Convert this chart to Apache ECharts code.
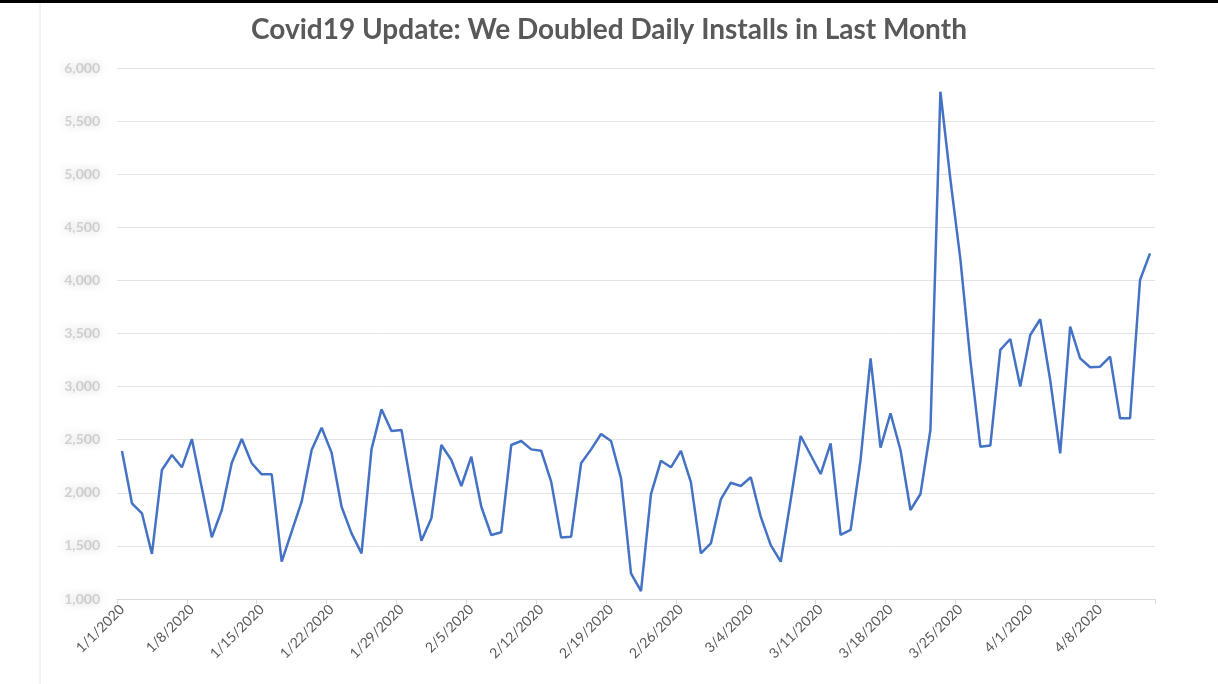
<!DOCTYPE html>
<html>
<head>
<meta charset="utf-8">
<script src="https://cdn.jsdelivr.net/npm/echarts@6/dist/echarts.min.js"></script>
<style>
html,body{margin:0;padding:0;background:#fff;}
#chart{width:1218px;height:684px;}
</style>
</head>
<body>
<div id="chart"></div>
<script>
const titleText = "Covid19 Update: We Doubled Daily Installs in Last Month";

const dates = [
"1/1/2020","1/2/2020","1/3/2020","1/4/2020","1/5/2020","1/6/2020","1/7/2020","1/8/2020","1/9/2020","1/10/2020",
"1/11/2020","1/12/2020","1/13/2020","1/14/2020","1/15/2020","1/16/2020","1/17/2020","1/18/2020","1/19/2020","1/20/2020",
"1/21/2020","1/22/2020","1/23/2020","1/24/2020","1/25/2020","1/26/2020","1/27/2020","1/28/2020","1/29/2020","1/30/2020",
"1/31/2020","2/1/2020","2/2/2020","2/3/2020","2/4/2020","2/5/2020","2/6/2020","2/7/2020","2/8/2020","2/9/2020",
"2/10/2020","2/11/2020","2/12/2020","2/13/2020","2/14/2020","2/15/2020","2/16/2020","2/17/2020","2/18/2020","2/19/2020",
"2/20/2020","2/21/2020","2/22/2020","2/23/2020","2/24/2020","2/25/2020","2/26/2020","2/27/2020","2/28/2020","2/29/2020",
"3/1/2020","3/2/2020","3/3/2020","3/4/2020","3/5/2020","3/6/2020","3/7/2020","3/8/2020","3/9/2020","3/10/2020",
"3/11/2020","3/12/2020","3/13/2020","3/14/2020","3/15/2020","3/16/2020","3/17/2020","3/18/2020","3/19/2020","3/20/2020",
"3/21/2020","3/22/2020","3/23/2020","3/24/2020","3/25/2020","3/26/2020","3/27/2020","3/28/2020","3/29/2020","3/30/2020",
"3/31/2020","4/1/2020","4/2/2020","4/3/2020","4/4/2020","4/5/2020","4/6/2020","4/7/2020","4/8/2020","4/9/2020",
"4/10/2020","4/11/2020","4/12/2020","4/13/2020"
];

const dailyInstalls = [
2394,1901,1807,1424,2215,2356,2240,2506,2045,1581,
1838,2283,2506,2278,2174,2174,1351,1634,1916,2403,
2613,2378,1869,1618,1430,2409,2786,2582,2591,2050,
1549,1760,2450,2309,2064,2340,1869,1603,1628,2450,
2488,2409,2396,2105,1578,1587,2278,2409,2554,2488,
2136,1242,1075,1987,2302,2240,2394,2100,1430,1524,
1939,2095,2064,2146,1775,1508,1351,1932,2535,2356,
2177,2466,1603,1650,2309,3266,2425,2749,2403,1838,
1989,2591,5777,4950,4200,3250,2434,2445,3345,3448,
3000,3486,3634,3062,2372,3564,3266,3182,3188,3282,
2701,2701,4004,4255
];

const yTicks = ["1,000","1,500","2,000","2,500","3,000","3,500","4,000","4,500","5,000","5,500","6,000"];

const chart = echarts.init(document.getElementById('chart'), null, {renderer:'canvas'});
chart.setOption({
  animation: false,
  backgroundColor: '#ffffff',
  title: {
    text: titleText,
    left: 'center',
    top: 11,
    textStyle: {fontFamily: 'Lato', fontWeight: 'bold', fontSize: 28, color: '#595959'}
  },
  grid: {left: 117, right: 63, top: 68, bottom: 85, containLabel: false},
  xAxis: {
    type: 'category',
    data: dates,
    boundaryGap: true,
    axisLine: {show: true, lineStyle: {color: '#d9d9d9', width: 1}},
    axisTick: {show: true, interval: 6, length: 5, lineStyle: {color: '#d9d9d9'}},
    axisLabel: {interval: 6, rotate: 45, color: '#595959', fontSize: 14, fontFamily: 'Lato', margin: 8}
  },
  yAxis: {
    type: 'value',
    min: 1000,
    max: 6000,
    interval: 500,
    axisLine: {show: false},
    axisTick: {show: false},
    splitLine: {lineStyle: {color: '#e3e3e3', width: 1}},
    axisLabel: {
      margin: 17,
      fontSize: 14,
      fontFamily: 'Lato',
      fontWeight: 'bold',
      color: 'rgba(140,140,140,0.35)',
      textShadowColor: 'rgba(100,100,100,0.9)',
      textShadowBlur: 8,
      formatter: function (v) { return yTicks[Math.round((v - 1000) / 500)] || ''; }
    }
  },
  series: [{
    type: 'line',
    data: dailyInstalls,
    symbol: 'none',
    smooth: false,
    lineStyle: {color: '#4472C4', width: 2.5}
  }],
  graphic: [
    {type: 'rect', shape: {x: 0, y: 0, width: 1218, height: 3}, style: {fill: '#000'}, silent: true},
    {type: 'line', shape: {x1: 40, y1: 3, x2: 40, y2: 684}, style: {stroke: '#e6e6e6', lineWidth: 1}, silent: true}
  ]
});
</script>
</body>
</html>
